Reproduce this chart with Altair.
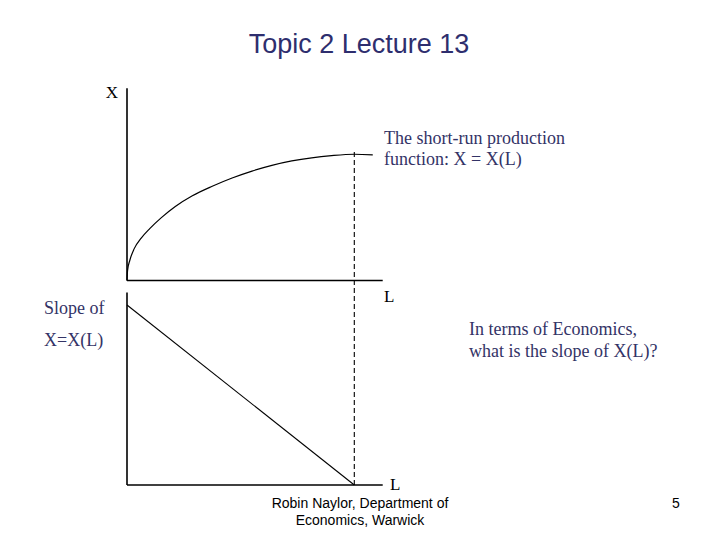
import altair as alt
import pandas as pd

# ---- data ----
# top panel: short-run production function X = X(L)
L_curve = [0.0, 0.02, 0.1, 0.25, 0.5, 0.8, 1.2, 1.7, 2.3, 3.0, 3.7, 4.4, 5.1, 5.8, 6.5, 7.2, 8.0, 8.65]
X_curve = [0.0, 0.8, 1.6, 2.5, 3.35, 4.1, 4.95, 5.85, 6.7, 7.45, 8.1, 8.65, 9.1, 9.45, 9.7, 9.87, 9.98, 9.93]
# bottom panel: slope of X = X(L)
L_slope = [0, 8]
MP_slope = [10, 0]
# axis extents and the dashed marker
L_axis = [0, 9.0]
X_axis = [0, 15.2]
MP_axis = [0, 10.7]
L_dash = [8]
dash_top_MP = [18.6]

title_text = "Topic 2 Lecture 13"
note_top = ["The short-run production", "function: X = X(L)"]
note_left = ["Slope of", "X=X(L)"]
note_right = ["In terms of Economics,", "what is the slope of X(L)?"]
footer = ["Robin Naylor, Department of", "Economics, Warwick"]
page_no = "5"

NAVY = "#333366"
SERIF = "Liberation Serif"
SANS = "Liberation Sans"

Lscale = alt.Scale(domain=[0, 8], range=[119, 346.3])
Xscale = alt.Scale(domain=[0, 10], range=[272.5, 146.0])
MPscale = alt.Scale(domain=[0, 10], range=[477, 297])

# ---- top panel ----
curve = alt.Chart(pd.DataFrame({"L": L_curve, "X": X_curve})).mark_line(
    color="black", strokeWidth=1.2, interpolate="monotone"
).encode(
    x=alt.X("L:Q", scale=Lscale, axis=None),
    y=alt.Y("X:Q", scale=Xscale, axis=None),
    order="L:Q",
)
top_v = alt.Chart(pd.DataFrame({"L": [L_axis[0]], "y1": [X_axis[0]], "y2": [X_axis[1]]})).mark_rule(
    color="black", strokeWidth=1.6
).encode(
    x=alt.X("L:Q", scale=Lscale, axis=None),
    y=alt.Y("y1:Q", scale=Xscale, axis=None),
    y2="y2:Q",
)
top_h = alt.Chart(pd.DataFrame({"x1": [L_axis[0]], "x2": [L_axis[1]], "X": [0]})).mark_rule(
    color="black", strokeWidth=1.6
).encode(
    x=alt.X("x1:Q", scale=Lscale, axis=None),
    x2="x2:Q",
    y=alt.Y("X:Q", scale=Xscale, axis=None),
)
top = alt.layer(top_v, top_h, curve)

# ---- bottom panel ----
slope = alt.Chart(pd.DataFrame({"L": L_slope, "MP": MP_slope})).mark_line(
    color="black", strokeWidth=1.1
).encode(
    x=alt.X("L:Q", scale=Lscale, axis=None),
    y=alt.Y("MP:Q", scale=MPscale, axis=None),
)
bot_v = alt.Chart(pd.DataFrame({"L": [L_axis[0]], "y1": [MP_axis[0]], "y2": [MP_axis[1]]})).mark_rule(
    color="black", strokeWidth=1.6
).encode(
    x=alt.X("L:Q", scale=Lscale, axis=None),
    y=alt.Y("y1:Q", scale=MPscale, axis=None),
    y2="y2:Q",
)
bot_h = alt.Chart(pd.DataFrame({"x1": [L_axis[0]], "x2": [L_axis[1]], "MP": [0]})).mark_rule(
    color="black", strokeWidth=1.6
).encode(
    x=alt.X("x1:Q", scale=Lscale, axis=None),
    x2="x2:Q",
    y=alt.Y("MP:Q", scale=MPscale, axis=None),
)
dashed = alt.Chart(pd.DataFrame({"L": L_dash, "y1": [0], "y2": dash_top_MP})).mark_rule(
    color="black", strokeWidth=1.1, strokeDash=[5, 3]
).encode(
    x=alt.X("L:Q", scale=Lscale, axis=None),
    y=alt.Y("y1:Q", scale=MPscale, axis=None),
    y2="y2:Q",
)
bottom = alt.layer(bot_v, bot_h, slope, dashed)


def label(text, x, y, size, font=SERIF, color="black", align="left"):
    return alt.Chart(pd.DataFrame({"t": [text]})).mark_text(
        font=font, fontSize=size, color=color, align=align, baseline="alphabetic"
    ).encode(text="t:N", x=alt.value(x), y=alt.value(y))


texts = [
    label(title_text, 351, 45, 27, font=SANS, color="#2e2e6e", align="center"),
    label("X", 104, 90, 17, align="center"),
    label("L", 376, 294, 17),
    label("L", 382, 482, 17),
    label(note_top[0], 376, 136, 18, color=NAVY),
    label(note_top[1], 376, 157, 18, color=NAVY),
    label(note_left[0], 36, 306, 18, color=NAVY),
    label(note_left[1], 36, 338, 18, color=NAVY),
    label(note_right[0], 461, 327, 18, color=NAVY),
    label(note_right[1], 461, 349, 18, color=NAVY),
    label(footer[0], 352, 500, 14, font=SANS, align="center"),
    label(footer[1], 352, 517, 14, font=SANS, align="center"),
    label(page_no, 664, 500, 14, font=SANS),
]

chart = alt.layer(top, bottom, *texts).resolve_scale(y="independent").properties(
    width=704, height=524, autosize=alt.AutoSizeParams(type="none"), padding=0,
    background="white",
).configure_view(stroke=None)

chart.save("out.html", embed_options={"renderer": "svg", "actions": False})
